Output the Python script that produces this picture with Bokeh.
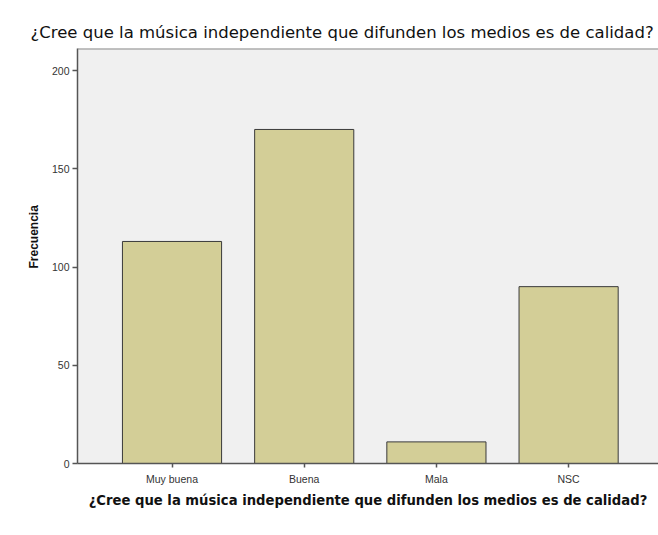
from bokeh.plotting import figure
from bokeh.models import ColumnDataSource, Range1d, FixedTicker, Span, Title
from bokeh.embed import file_html
from bokeh.resources import INLINE

categories = ["Muy buena", "Buena", "Mala", "NSC"]
counts = [113, 170, 11, 90]
y_ticks = [0, 50, 100, 150, 200]
question = "¿Cree que la música independiente que difunden los medios es de calidad?"
y_title = "Frecuencia"

positions = list(range(len(categories)))
source = ColumnDataSource(dict(x=positions, count=counts, cat=categories))

p = figure(width=658, height=535, output_backend="svg", toolbar_location=None,
           x_range=Range1d(-0.715, 3.68), y_range=Range1d(0, 211.2),
           min_border_left=77, min_border_right=0, min_border_top=48,
           min_border_bottom=72)

p.background_fill_color = "#F0F0F0"
p.border_fill_color = "white"
p.outline_line_color = None
p.grid.visible = False

p.vbar(x="x", top="count", width=0.75, source=source,
       fill_color="#D3CE97", line_color="#3a3a3a", line_width=1)

p.add_layout(Span(location=211.2, dimension="width", line_color="#8a8a8a", line_width=2))

p.title.text = question
p.title.text_font = "DejaVu Sans"
p.title.text_font_size = "16.5px"
p.title.text_font_style = "normal"
p.title.text_color = "#111111"
p.title.align = "left"
p.title.offset = -47
p.title.standoff = 13

# y axis
ya = p.yaxis[0]
ya.ticker = FixedTicker(ticks=y_ticks)
ya.minor_tick_line_color = None
ya.major_tick_in = 0
ya.major_tick_out = 5
ya.axis_line_color = "#555555"
ya.axis_line_width = 1.5
ya.major_tick_line_color = "#555555"
ya.major_tick_line_width = 1.5
ya.major_label_text_font = "Liberation Sans"
ya.major_label_text_font_size = "10.5px"
ya.major_label_text_color = "#333333"
ya.major_label_standoff = 3

p.add_layout(Title(text=y_title, text_font="Liberation Sans", text_font_size="12px",
                   text_font_style="bold", text_color="#111111",
                   align="left", offset=195, standoff=15), "left")

# x axis
xa = p.xaxis[0]
xa.ticker = FixedTicker(ticks=positions)
xa.major_label_overrides = {i: c for i, c in zip(positions, categories)}
xa.minor_tick_line_color = None
xa.major_tick_in = 0
xa.major_tick_out = 4
xa.axis_line_color = "#555555"
xa.axis_line_width = 1.5
xa.major_tick_line_color = "#555555"
xa.major_tick_line_width = 1.5
xa.major_label_text_font = "Liberation Sans"
xa.major_label_text_font_size = "10.5px"
xa.major_label_text_color = "#333333"
xa.major_label_standoff = 5
xa.axis_label = question
xa.axis_label_text_font = "DejaVu Sans"
xa.axis_label_text_font_size = "13.2px"
xa.axis_label_text_font_style = "bold"
xa.axis_label_text_color = "#111111"
xa.axis_label_standoff = 5

open("out.html", "w").write(file_html(p, INLINE))
